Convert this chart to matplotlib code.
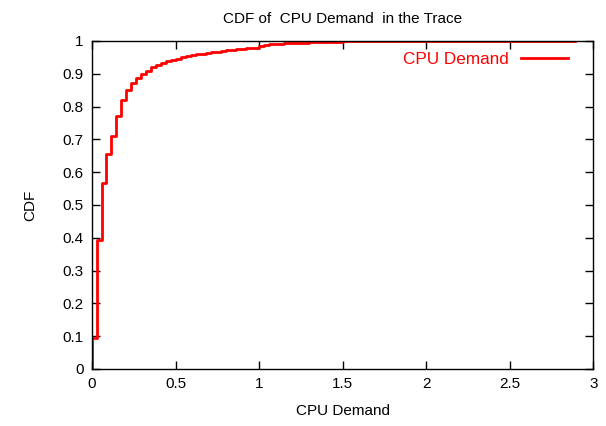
import numpy as np
import matplotlib
matplotlib.use('Agg')
import matplotlib.pyplot as plt

plt.rcParams['font.family'] = ['Liberation Sans', 'DejaVu Sans']

# CDF steps (x where the step starts, cdf value after it)
demand = [0, 0, 0.028, 0.058, 0.084, 0.114, 0.144, 0.174, 0.20, 0.23, 0.26,
          0.29, 0.32, 0.35, 0.38, 0.41, 0.44, 0.47, 0.50, 0.53, 0.56, 0.59,
          0.62, 0.65, 0.68, 0.71, 0.74, 0.77, 0.80, 0.83, 0.86, 0.89, 0.92,
          0.95, 0.98, 1.00, 1.03, 1.06, 1.10, 1.15, 1.20, 1.30, 1.40, 1.50,
          1.70, 2.00, 2.89]
cdf = [0, 0.095, 0.393, 0.566, 0.654, 0.710, 0.771, 0.820, 0.851, 0.873,
       0.886, 0.899, 0.909, 0.919, 0.927, 0.933, 0.938, 0.942, 0.946, 0.950,
       0.953, 0.956, 0.959, 0.961, 0.963, 0.965, 0.967, 0.969, 0.971, 0.973,
       0.975, 0.976, 0.977, 0.978, 0.979, 0.985, 0.988, 0.990, 0.992, 0.994,
       0.995, 0.997, 0.998, 0.999, 0.9995, 1.0, 1.0]

xticks = [0, 0.5, 1, 1.5, 2, 2.5, 3]
xtick_labels = ['0', '0.5', '1', '1.5', '2', '2.5', '3']
yticks = [0, 0.1, 0.2, 0.3, 0.4, 0.5, 0.6, 0.7, 0.8, 0.9, 1]
ytick_labels = ['0', '0.1', '0.2', '0.3', '0.4', '0.5', '0.6', '0.7', '0.8', '0.9', '1']

fig = plt.figure(figsize=(6.06, 4.26), dpi=100)
ax = fig.add_axes([0.152, 0.134, 0.827, 0.770])

ax.step(demand, cdf, where='post', color='red', linewidth=2, label='CPU Demand')

ax.set_xlim(0, 3)
ax.set_ylim(0, 1)
ax.set_xticks(xticks)
ax.set_xticklabels(xtick_labels)
ax.set_yticks(yticks)
ax.set_yticklabels(ytick_labels)
ax.tick_params(direction='in', top=True, right=True, length=6, width=1,
               labelsize=11, pad=6)
for s in ax.spines.values():
    s.set_linewidth(1)

ax.set_title('CDF of  CPU Demand  in the Trace', fontsize=11, pad=13)
ax.set_xlabel('CPU Demand', fontsize=11, labelpad=9)
ax.set_ylabel('CDF', fontsize=11, labelpad=18)

ax.legend(loc='upper right', bbox_to_anchor=(0.950, 0.966), frameon=False,
          markerfirst=False, labelcolor='red', fontsize=12.3,
          handlelength=2.75, borderaxespad=0, borderpad=0, handletextpad=0.72)

fig.savefig('out.png', dpi=100)
